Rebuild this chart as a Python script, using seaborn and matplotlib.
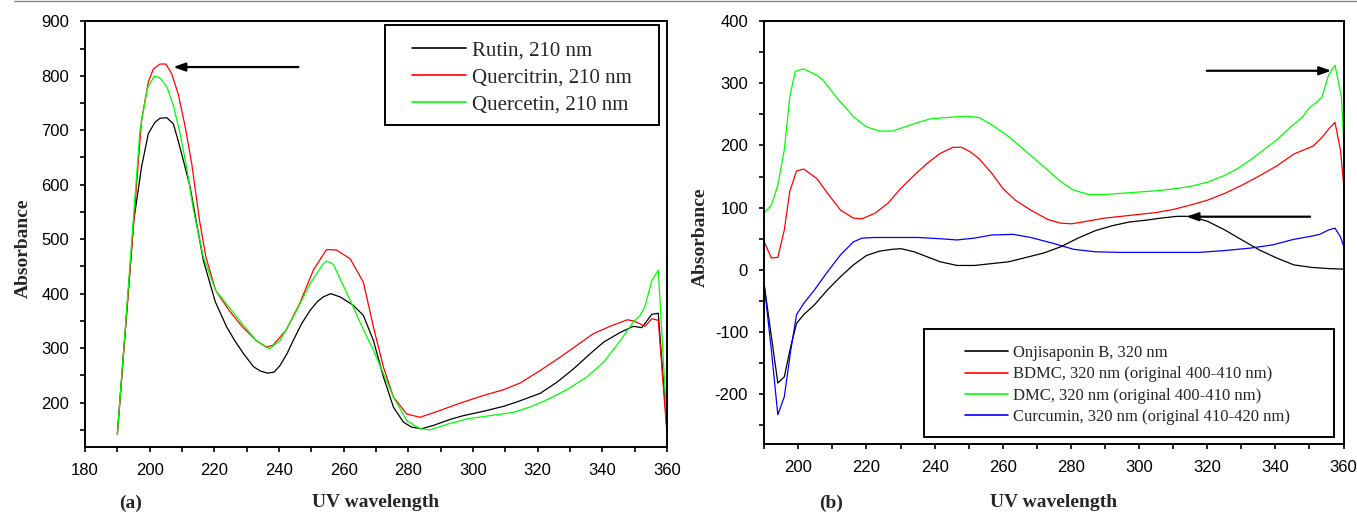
import numpy as np
import pandas as pd
import matplotlib
matplotlib.use("Agg")
import matplotlib.pyplot as plt
import seaborn as sns
from matplotlib.ticker import MultipleLocator
from matplotlib.patches import Rectangle
from matplotlib.lines import Line2D

# ---------------- data: panel (a) ----------------
rutin_x = [190, 195.1, 197.5, 199.6, 201.7, 203.2, 205.3, 207.3, 208.9, 210.4, 212.5, 214.5, 216.6, 220.3,
           223.8, 226.5, 229, 232.1, 234.2, 236.5, 238.5, 240.3, 242.5, 244.4, 247, 249.6, 251.8, 253.7,
           256, 258.9, 263, 266.1, 269.2, 272.3, 275.4, 278.5, 281, 284.1, 287.7, 292.9, 297, 303.2,
           309.4, 313.5, 320.8, 326, 331.1, 336.3, 340.4, 345.6, 349.6, 352.2, 355.3, 357.3, 360.4]
rutin_y = [143, 535, 633, 694, 715, 722, 723, 712, 679, 645, 596, 530, 461, 385,
           339, 312, 290, 266, 258, 254, 256, 268, 290, 314, 345, 369, 385, 394,
           400, 394, 378.5, 360, 314, 247, 191.5, 164, 155, 152, 158, 169, 176, 184,
           193, 201, 217, 237.5, 262, 290, 311, 329, 340, 337.5, 362, 364, 118]

quercitrin_x = [190, 197.5, 199.6, 201.1, 203.2, 205, 206.8, 208.9, 211, 213, 215.4, 217.4, 220.4, 224.6,
                228.7, 232.9, 236, 238.1, 242.2, 246.4, 250.6, 254.7, 257.8, 262, 266.1, 269.2, 272.3,
                275.4, 279.5, 283.6, 289.8, 296, 303.2, 309.4, 314.6, 320.8, 327, 332.1, 337.2, 342.4,
                347.7, 349.6, 351.5, 353.2, 355.3, 357.3, 360.4]
quercitrin_y = [141, 719, 789, 812, 821.5, 821.5, 804, 765, 706, 639, 535, 467, 406, 369,
                339, 314, 302, 305, 333, 382, 443, 481, 480, 464, 421, 339, 265,
                210, 179, 173, 185.5, 199, 213, 223.5, 236, 259, 283.5, 305, 326.5, 340,
                352, 350, 345, 340, 354, 351, 112]

quercetin_x = [190, 197, 199.3, 201.4, 203, 205.3, 207.3, 209.4, 211.4, 213.5, 216.6, 220.4, 224.6, 228.7,
               232.9, 237.1, 240.3, 244.4, 249.6, 253.7, 254.7, 256.8, 258.9, 262, 265, 269.2, 272.3,
               275.4, 279.5, 283.6, 286.7, 291.9, 298.1, 305.3, 312.5, 317.7, 322.8, 329, 335.2, 340.4,
               345.6, 349.6, 351.7, 353.2, 355.3, 357.3, 360.4]
quercetin_y = [141, 700, 777, 799, 797, 780, 746, 694, 633, 555, 467, 406, 375, 344,
               314, 299, 314, 357, 418, 455, 460, 454, 427, 388, 348, 296, 253,
               210, 167, 152, 150, 160, 170, 176, 182, 192, 205, 223.5, 247, 274,
               314, 348, 360, 376.5, 424, 443, 120]

labels_a = ["Rutin, 210 nm", "Quercitrin, 210 nm", "Quercetin, 210 nm"]

# ---------------- data: panel (b) ----------------
onji_x = [190, 192.1, 194, 195.9, 197.8, 199.5, 201.6, 204.8, 208.6, 212.4, 216.2, 220, 223.8, 227.6,
          230.1, 234, 237.8, 241.6, 246.6, 251.7, 256.8, 261.8, 266.9, 272, 277, 282.1, 287.2, 292.2,
          297.3, 302.4, 306.2, 311.2, 315, 320.1, 325.2, 330.2, 335.3, 340.4, 345.4, 350.5, 355.6, 360.6]
onji_y = [-24, -107, -182, -172, -123, -86, -72, -56, -32, -11, 8, 23, 30, 33,
          34, 29, 21, 13, 7, 7, 10, 13, 20, 27, 37, 51, 63, 71,
          77, 80, 83, 86, 86, 78, 64, 48, 32, 19, 8, 4, 2, 1]

bdmc_x = [190, 192.1, 194, 195.9, 197.5, 199.5, 201.6, 205.4, 208.6, 212.4, 216.2, 218.7, 222.5, 226.3,
          230.1, 234, 237.8, 241.6, 245.4, 247.9, 250.4, 253, 256.8, 260, 263.7, 268.2, 273.2, 277,
          280.2, 284.6, 289.7, 294.8, 299.8, 304.9, 310, 315, 320.1, 325.2, 330.2, 335.3, 340.4,
          345.4, 348, 351.1, 353.7, 355.6, 357.5, 359.1, 360.9]
bdmc_y = [45, 19, 20, 64, 126, 159, 162, 147, 123, 96, 83, 82, 91, 107,
          131, 152, 171, 187, 197, 197, 190, 179, 155, 131, 112, 96, 81, 75,
          74, 78, 83, 86, 89, 92, 97, 104, 112, 123, 136, 151, 167,
          186, 192, 199, 213, 226, 237, 193, 86]

dmc_x = [190, 192.1, 194, 195.9, 197.5, 199.1, 201.6, 205.4, 207.3, 211.1, 216.2, 220, 223.8, 227.6,
         231.4, 235.2, 239, 244.1, 249.2, 253, 256.8, 261.8, 266.9, 272, 277, 280.8, 285.3, 289.7,
         294.8, 299.8, 304.9, 310, 315, 320.1, 325.2, 329, 332.8, 336.6, 340.4, 344.2, 348, 349.9,
         351.8, 353.7, 355.6, 357.5, 359.4, 360.9]
dmc_y = [91, 104, 136, 193, 278, 319, 323, 313, 305, 278, 246, 230, 223, 223,
         230, 237, 243, 245, 247, 245, 233, 214, 190, 166, 142, 128, 121, 121,
         123, 125, 127, 130, 134, 141, 152, 163, 177, 193, 209, 228, 246, 260,
         268, 278, 313, 329, 278, 118]

curc_x = [190, 192.1, 194, 195.9, 197.8, 199.5, 201.6, 204.8, 208.6, 212.4, 216.2, 218.7, 222.5, 228.9,
          235.2, 241.6, 246.6, 251.7, 256.8, 263.1, 268.2, 274.5, 280.8, 287.2, 294.8, 302.4, 310,
          317.6, 325.2, 332.8, 339.1, 345.4, 350.5, 353, 355.6, 357.5, 359.1, 360.9]
curc_y = [-24, -129, -233, -204, -129, -72, -54, -32, -3, 24, 45, 51, 52, 52,
          52, 50, 48, 51, 56, 57, 52, 43, 33, 29, 28, 28, 28,
          28, 31, 35, 40, 49, 54, 57, 64, 67, 53, 24]

labels_b = ["Onjisaponin B, 320 nm", "BDMC, 320 nm (original 400-410 nm)",
            "DMC, 320 nm (original 400-410 nm)", "Curcumin, 320 nm (original 410-420 nm)"]

df_a = pd.concat([
    pd.DataFrame({"x": rutin_x, "y": rutin_y, "series": labels_a[0]}),
    pd.DataFrame({"x": quercitrin_x, "y": quercitrin_y, "series": labels_a[1]}),
    pd.DataFrame({"x": quercetin_x, "y": quercetin_y, "series": labels_a[2]}),
], ignore_index=True)
df_b = pd.concat([
    pd.DataFrame({"x": onji_x, "y": onji_y, "series": labels_b[0]}),
    pd.DataFrame({"x": bdmc_x, "y": bdmc_y, "series": labels_b[1]}),
    pd.DataFrame({"x": dmc_x, "y": dmc_y, "series": labels_b[2]}),
    pd.DataFrame({"x": curc_x, "y": curc_y, "series": labels_b[3]}),
], ignore_index=True)

pal_a = dict(zip(labels_a, ["#000000", "#ff0000", "#00ff00"]))
pal_b = dict(zip(labels_b, ["#000000", "#ff0000", "#00ff00", "#0000ff"]))

# ---------------- style ----------------
sns.set_theme(style="ticks")
plt.rcParams["font.family"] = ["Liberation Sans", "DejaVu Sans"]
plt.rcParams["axes.unicode_minus"] = False
SERIF = ["Liberation Serif", "DejaVu Serif"]

W, H = 1357, 513
fig = plt.figure(figsize=(W / 100, H / 100), dpi=100)

def fx(px):
    return px / W

def fy(py):
    return 1 - py / H

ax1 = fig.add_axes([fx(85), fy(446.7), fx(667) - fx(85), fy(21.3) - fy(446.7)])
ax2 = fig.add_axes([fx(764.2), fy(444), fx(1343.5) - fx(764.2), fy(21) - fy(444)])

sns.lineplot(data=df_a, x="x", y="y", hue="series", hue_order=labels_a, palette=pal_a,
             estimator=None, sort=False, lw=0.9, ax=ax1)
sns.lineplot(data=df_b, x="x", y="y", hue="series", hue_order=labels_b, palette=pal_b,
             estimator=None, sort=False, lw=0.9, ax=ax2)

ax1.set_xlim(180, 360)
ax1.set_ylim(119, 900)
ax2.set_xlim(190, 360)
ax2.set_ylim(-280, 400)

ax1.xaxis.set_major_locator(MultipleLocator(20))
ax1.xaxis.set_minor_locator(MultipleLocator(10))
ax1.yaxis.set_major_locator(MultipleLocator(100))
ax1.yaxis.set_minor_locator(MultipleLocator(50))
ax1.set_yticks(np.arange(200, 901, 100))
ax2.set_xticks(np.arange(200, 361, 20))
ax2.xaxis.set_minor_locator(MultipleLocator(10))
ax2.set_yticks(np.arange(-200, 401, 100))
ax2.yaxis.set_minor_locator(MultipleLocator(50))

for ax in (ax1, ax2):
    for s in ax.spines.values():
        s.set_visible(True)
        s.set_linewidth(1.4)
        s.set_color("black")
    ax.tick_params(which="both", direction="out", length=3.6, width=1.2, colors="black",
                   top=False, right=False, labelsize=12)
    ax.tick_params(axis="y", which="both", pad=8)
    ax.tick_params(axis="x", which="both", pad=8)
    ax.set_xlabel("UV wavelength", fontsize=14, fontweight="bold", family=SERIF)
    ax.set_ylabel("Absorbance", fontsize=14, fontweight="bold", family=SERIF)

ax1.xaxis.set_label_coords(0.5, -0.111)
ax2.xaxis.set_label_coords(0.5, -0.118)
ax1.yaxis.set_label_coords(-0.091, 0.466)
ax2.yaxis.set_label_coords(-0.095, 0.488)

# ---------------- legends ----------------
def make_legend(ax, box, handle_x, top_px, fs, hl, spacing):
    old = ax.get_legend()
    handles = old.legend_handles
    labels = [t.get_text() for t in old.get_texts()]
    old.remove()
    x0, y0, x1, y1 = box
    rect = Rectangle((fx(x0), fy(y1)), fx(x1) - fx(x0), fy(y0) - fy(y1), transform=fig.transFigure,
                     facecolor="white", edgecolor="black", lw=1.4, zorder=4, clip_on=False)
    ax.add_patch(rect)
    leg = ax.legend(handles, labels, loc="upper left", bbox_to_anchor=(fx(handle_x), fy(top_px)),
                    bbox_transform=fig.transFigure, frameon=False, borderpad=0, borderaxespad=0,
                    handlelength=hl, handletextpad=0.28, labelspacing=spacing,
                    prop={"family": SERIF, "size": fs})
    leg.set_zorder(5)
    for h in leg.legend_handles:
        h.set_linewidth(1.2)
    return leg

make_legend(ax1, (385, 25, 659, 125), 412, 41, 15, 2.6, 0.36)
make_legend(ax2, (924, 329, 1334, 437), 965, 345, 12, 2.6, 0.32)

# ---------------- arrows ----------------
aprops = dict(arrowstyle="-|>,head_length=0.7,head_width=0.25", color="black", lw=1.6,
              shrinkA=0, shrinkB=0, mutation_scale=10)
ax1.annotate("", xy=(207.3, 816), xytext=(246, 816), arrowprops=aprops)
ax2.annotate("", xy=(356.4, 320), xytext=(319.9, 320), arrowprops=aprops)
ax2.annotate("", xy=(313.9, 85.4), xytext=(350.2, 85.4), arrowprops=aprops)

# ---------------- panel tags ----------------
fig.text(fx(131), fy(503), "(a)", ha="center", va="center", fontsize=14, fontweight="bold", family=SERIF)
fig.text(fx(831), fy(503), "(b)", ha="center", va="center", fontsize=14, fontweight="bold", family=SERIF)

fig.add_artist(Line2D([0.01, 1.0], [0.999, 0.999], transform=fig.transFigure, color="#888888", lw=1.0))

fig.savefig("out.png", dpi=100)
